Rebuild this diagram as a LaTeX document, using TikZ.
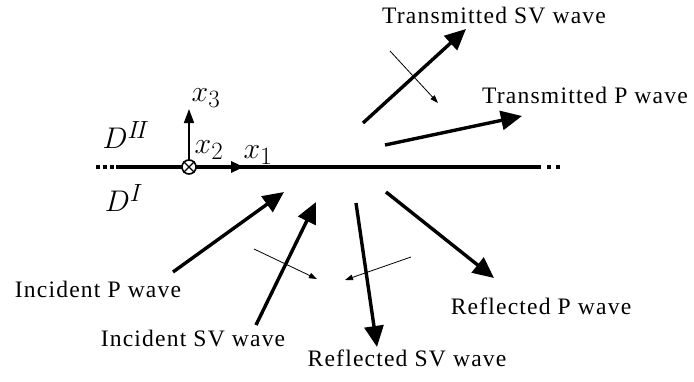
\documentclass[tikz,border=0pt]{standalone}
\usepackage{fontspec}
\setmainfont[LetterSpace=5]{Liberation Serif}
\usetikzlibrary{arrows.meta}
\tikzset{
  wave/.style={line width=3.4pt,-{Triangle[length=21pt,width=19pt]}},
  polar/.style={line width=0.8pt,-{Triangle[length=8pt,width=5.5pt]}},
  lbl/.style={font=\fontsize{23.6}{28}\selectfont, inner sep=0pt},
  mlbl/.style={font=\fontsize{24.88}{30}\selectfont, inner sep=0pt},
  iface/.style={line width=3.8pt}
}
\begin{document}
\begin{tikzpicture}[x=1pt,y=-1pt]
\useasboundingbox (0,0) rectangle (694,381);
% interface
\coordinate (L0) at (96,167);
\coordinate (L1) at (116,167);
\coordinate (R1) at (541,167);
\coordinate (R0) at (564,167);
\coordinate (O) at (189,167);
\coordinate (X1) at (244,167);
\coordinate (X3) at (189,109);
\draw[iface] (L1) -- (R1);
\draw[iface,dash pattern=on 4pt off 3pt] (L0) -- (L1);
\draw[iface,dash pattern=on 0pt off 6pt on 4pt off 5pt on 4pt off 6pt] (R1) -- (R0);
\draw[line width=3.8pt,-{Triangle[length=13pt,width=11pt]}] (O) -- (X1);
\draw[line width=1.6pt,-{Triangle[length=14pt,width=10pt]}] (O) -- (X3);
\node[circle,draw,fill=white,line width=1.6pt,minimum size=14pt,inner sep=0pt] (orig) at (O) {};
\draw[line width=1.3pt] (orig.north east) -- (orig.south west) (orig.north west) -- (orig.south east);
\node[mlbl] (lx3) at (206,98) {\scalebox{1.2}{$x_3$}};
\node[mlbl] (lx2) at (209,150) {\scalebox{1.2}{$x_2$}};
\node[mlbl] (lx1) at (258,155) {\scalebox{1.2}{$x_1$}};
\node[mlbl] (dII) at (126,135) {\scalebox{1.2}{$D^{I\!I}$}};
\node[mlbl] (dI) at (124,198) {\scalebox{1.2}{$D^{I}$}};
% waves
\coordinate (ipA) at (173,272); \coordinate (ipB) at (284,192);
\coordinate (isA) at (256,325); \coordinate (isB) at (316,202);
\coordinate (rsA) at (356,203); \coordinate (rsB) at (377,347);
\coordinate (rpA) at (386,192); \coordinate (rpB) at (494,278);
\coordinate (tsA) at (363,123); \coordinate (tsB) at (466,29);
\coordinate (tpA) at (385,145); \coordinate (tpB) at (522,116);
\draw[wave] (ipA) -- (ipB);
\draw[wave] (isA) -- (isB);
\draw[wave] (rsA) -- (rsB);
\draw[wave] (rpA) -- (rpB);
\draw[wave] (tsA) -- (tsB);
\draw[wave] (tpA) -- (tpB);
% polarization arrows
\coordinate (paA) at (390,51); \coordinate (paB) at (438,103);
\coordinate (pbA) at (254,249); \coordinate (pbB) at (317,279);
\coordinate (pcA) at (411,257); \coordinate (pcB) at (345,280);
\draw[polar] (paA) -- (paB);
\draw[polar] (pbA) -- (pbB);
\draw[polar] (pcA) -- (pcB);
% labels
\node[lbl] (tsl) at (494,15) {Transmitted SV wave};
\node[lbl] (tpl) at (585,95) {Transmitted P wave};
\node[lbl] (ipl) at (98,289) {Incident P wave};
\node[lbl] (isl) at (193,338) {Incident SV wave};
\node[lbl] (rsl) at (407,358) {Reflected SV wave};
\node[lbl] (rpl) at (541,306) {Reflected P wave};
\end{tikzpicture}
\end{document}
